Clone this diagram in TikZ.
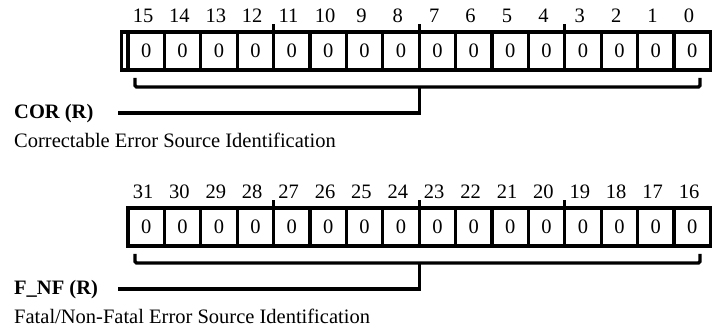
\documentclass[tikz,border=0pt]{standalone}
\usepackage{fontspec}
\setmainfont{Liberation Serif}
\begin{document}
\begin{tikzpicture}[x=1pt,y=-1pt,
  cell/.style={draw, line width=3.3pt, minimum width=36.4pt, minimum height=38pt,
    inner sep=0pt, outer sep=0pt, anchor=north west, font=\fontsize{20.5}{24}\selectfont},
  bitnum/.style={anchor=base, inner sep=0pt, font=\fontsize{20.5}{24}\selectfont},
  regline/.style={line width=3.3pt},
  tickline/.style={line width=3pt},
  fieldname/.style={anchor=base west, inner sep=0pt, font=\fontsize{20.5}{24}\selectfont\bfseries},
  fielddesc/.style={anchor=base west, inner sep=0pt, font=\fontsize{20.5}{24}\selectfont}]
\useasboundingbox (0,0) rectangle (712,328);

% ---------- top register: bits 15..0 ----------
\foreach \k in {0,...,15}{
  \pgfmathtruncatemacro{\b}{15-\k}
  \node[cell] (c\b) at ({128+36.4*\k},32) {0};
  \node[bitnum] (n\b) at ({128+36.4*\k+15},23) {\b};
}
\coordinate (tl1) at (121.5,32);
\coordinate (tl2) at (121.5,70);
\draw[regline] (c15.north west) -- (tl1) -- (tl2) -- (c15.south west);
\foreach \b in {11,7,3}{
  \draw[tickline] (c\b.north west) -- ++(0,-8);
}
\coordinate (ba) at (135,78);
\coordinate (bb) at (700,78);
\coordinate (bm) at (419.2,87);
\coordinate (bj) at (419.2,113);
\coordinate (bs) at (118,113);
\draw[regline, rounded corners=1.5pt] (ba) -- (135,87) -- (700,87) -- (bb);
\draw[regline] (bm) -- (bj) -- (bs);
\node[fieldname] (cor) at (14,119) {COR (R)};
\node[fielddesc] (cord) at (14,147.5) {Correctable Error Source Identification};

% ---------- bottom register: bits 31..16 ----------
\foreach \k in {0,...,15}{
  \pgfmathtruncatemacro{\b}{31-\k}
  \node[cell] (d\b) at ({128+36.4*\k},208) {0};
  \node[bitnum] (m\b) at ({128+36.4*\k+15},199) {\b};
}
\coordinate (tr1) at (712,208);
\coordinate (tr2) at (712,246);
\draw[regline] (d16.north east) -- (tr1);
\draw[regline] (d16.south east) -- (tr2);
\foreach \b in {27,23,19}{
  \draw[tickline] (d\b.north west) -- ++(0,-8);
}
\coordinate (ea) at (135,254);
\coordinate (eb) at (700,254);
\coordinate (em) at (419.2,263);
\coordinate (ej) at (419.2,289);
\coordinate (es) at (118,289);
\draw[regline, rounded corners=1.5pt] (ea) -- (135,263) -- (700,263) -- (eb);
\draw[regline] (em) -- (ej) -- (es);
\node[fieldname] (fnf) at (14,295) {F\_NF (R)};
\node[fielddesc] (fnfd) at (14,323.5) {Fatal/Non-Fatal Error Source Identification};
\end{tikzpicture}
\end{document}
